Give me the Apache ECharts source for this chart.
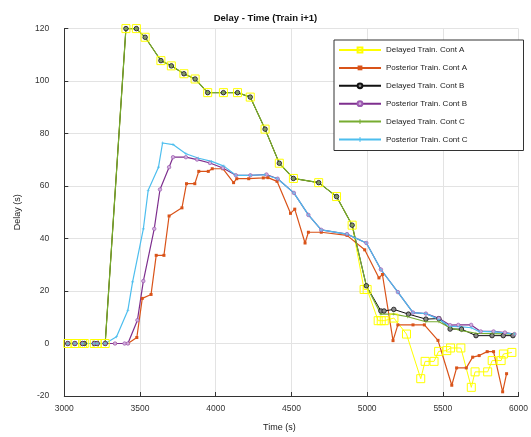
<!DOCTYPE html>
<html>
<head>
<meta charset="utf-8">
<script src="https://cdn.jsdelivr.net/npm/echarts@6/dist/echarts.min.js"></script>
<style>
  html, body { margin: 0; padding: 0; background: #fff; }
  #chart { width: 531px; height: 437px; }
</style>
</head>
<body>
<div id="chart"></div>
<script>
// series names (legend order)
var names = ['Delayed Train. Cont A', 'Posterior Train. Cont A', 'Delayed Train. Cont B',
             'Posterior Train. Cont B', 'Delayed Train. Cont C', 'Posterior Train. Cont C'];

// Delayed Train A
var delAT = [3023, 3070, 3121, 3132, 3198, 3217, 3270, 3407, 3476, 3534, 3638, 3707, 3790, 3864, 3947, 4051, 4144, 4228, 4326, 4420, 4513, 4680, 4798, 4901, 4980, 5000, 5073, 5093, 5113, 5177, 5260, 5354, 5383, 5442, 5472, 5526, 5551, 5619, 5688, 5713, 5796, 5826, 5885, 5900, 5956];
var delAD = [0, 0, 0, 0, 0, 0, 0, 120, 120, 116.7, 107.8, 105.8, 102.8, 100.8, 95.6, 95.6, 95.6, 93.9, 81.7, 68.7, 62.9, 61.3, 56, 45.1, 20.6, 20.6, 8.7, 8.7, 8.7, 9.7, 3.6, -13.4, -6.8, -6.8, -3, -2.7, -1.7, -1.7, -16.7, -10.8, -10.8, -6.5, -6.5, -4, -3.4];

// Posterior Train A
var postAT = [3023, 3070, 3121, 3198, 3217, 3270, 3335, 3420, 3479, 3515, 3573, 3607, 3658, 3692, 3777, 3807, 3862, 3888, 3951, 3977, 4047, 4118, 4139, 4218, 4314, 4345, 4405, 4494, 4522, 4590, 4612, 4697, 4867, 4984, 5078, 5101, 5171, 5203, 5303, 5378, 5468, 5559, 5591, 5655, 5697, 5740, 5793, 5835, 5895, 5921];
var postAD = [0, 0, 0, 0, 0, 0, 0, 0, 2.3, 17.2, 18.7, 33.6, 33.6, 48.6, 51.7, 60.9, 60.9, 65.6, 65.6, 66.6, 66.6, 61.3, 62.8, 62.8, 63.1, 63.2, 61.8, 49.6, 51.2, 38.3, 42.4, 42.4, 41.2, 35.7, 25, 26.3, 1.1, 7.1, 7.1, 7.1, 1.2, -15.9, -9.3, -9.3, -5.2, -4.6, -3.1, -3.1, -18.4, -11.5];

// Delayed Train B
var delBT = [3023, 3070, 3121, 3132, 3198, 3217, 3270, 3407, 3476, 3534, 3638, 3707, 3790, 3864, 3947, 4051, 4144, 4228, 4326, 4420, 4513, 4680, 4798, 4901, 4995, 5091, 5112, 5176, 5273, 5388, 5474, 5548, 5623, 5719, 5825, 5899, 5963];
var delBD = [0, 0, 0, 0, 0, 0, 0, 120, 120, 116.7, 107.8, 105.8, 102.8, 100.8, 95.6, 95.6, 95.6, 93.9, 81.7, 68.7, 62.9, 61.3, 56, 45.1, 22, 12.4, 12.4, 13, 11.2, 9.3, 9.5, 5.5, 5.5, 3, 3, 3, 3];

// Posterior Train B
var postBT = [3023, 3070, 3121, 3198, 3217, 3270, 3335, 3398, 3420, 3483, 3522, 3594, 3632, 3692, 3718, 3803, 3877, 3962, 4047, 4133, 4229, 4335, 4409, 4516, 4612, 4697, 4867, 4995, 5091, 5203, 5303, 5388, 5474, 5548, 5602, 5687, 5750, 5835, 5910, 5973];
var postBD = [0, 0, 0, 0, 0, 0, 0, 0, 0, 8.9, 23.8, 43.7, 58.7, 67.2, 71, 71, 70.1, 68.8, 66.9, 64.1, 64.1, 64.4, 62.8, 57.4, 49, 43.3, 41.7, 38.3, 28.2, 19.6, 11.8, 11.4, 9.6, 7, 7.1, 7.1, 4.6, 4.6, 4.2, 3.6];

// Delayed Train C
var delCT = [3023, 3070, 3121, 3132, 3198, 3217, 3270, 3407, 3476, 3534, 3638, 3707, 3790, 3864, 3947, 4051, 4144, 4228, 4326, 4420, 4513, 4680, 4798, 4901, 4995, 5091, 5176, 5268, 5388, 5474, 5548, 5623, 5719, 5825, 5970];
var delCD = [0, 0, 0, 0, 0, 0, 0, 120, 120, 116.7, 107.8, 105.8, 102.8, 100.8, 95.6, 95.6, 95.6, 93.9, 81.7, 68.7, 62.9, 61.3, 56, 45.1, 22, 11.2, 11.2, 10.2, 8.3, 8.3, 6, 4.9, 3.9, 3.8, 3.6];

// Posterior Train C
var postCT = [3023, 3070, 3121, 3198, 3217, 3270, 3345, 3420, 3451, 3522, 3554, 3622, 3649, 3718, 3803, 3888, 3973, 4054, 4133, 4229, 4324, 4409, 4516, 4612, 4697, 4867, 4995, 5091, 5203, 5303, 5388, 5474, 5548, 5610, 5687, 5740, 5846, 5973];
var postCD = [0, 0, 0, 0, 0, 0, 2.6, 12.7, 23.5, 43.7, 58.4, 67.2, 76.4, 75.8, 72.3, 70.6, 69.4, 67.6, 64.1, 64.1, 64.3, 62.8, 57.4, 49, 43.3, 41.7, 38.3, 28.2, 19.6, 11.8, 11.4, 9.2, 6.5, 6.4, 6, 4.6, 4.4, 3.6];

var xTicks = [3000, 6000, 500];
var yTicks = [-20, 120, 20];

function pairs(t, d) {
  return t.map(function (v, i) { return [v, d[i]]; });
}

var plus = 'path://M4,0H6V4H10V6H6V10H4V6H0V4H4Z';
var font = 'Liberation Sans, Arial';

window.onload = function () {
  var myChart = echarts.init(document.getElementById('chart'));
  var option = {
    animation: false,
    backgroundColor: '#fff',
    title: {
      text: 'Delay - Time (Train i+1)',
      left: 'center',
      top: 8,
      textStyle: { fontFamily: font, fontSize: 9.5, fontWeight: 'bold', color: '#111' }
    },
    grid: { left: 64.3, top: 28.6, width: 469.7, height: 370 },
    legend: {
      orient: 'vertical',
      left: 334,
      top: 40,
      itemWidth: 42,
      itemHeight: 6,
      itemGap: 9.9,
      padding: [6, 56, 7, 4],
      backgroundColor: '#fff',
      borderColor: '#333',
      borderWidth: 1,
      borderRadius: 0,
      textStyle: { fontFamily: font, fontSize: 8, color: '#222' },
      data: names
    },
    xAxis: {
      type: 'value',
      min: xTicks[0], max: xTicks[1], interval: xTicks[2],
      name: 'Time (s)',
      nameLocation: 'middle',
      nameGap: 27,
      nameTextStyle: { fontFamily: font, fontSize: 9, color: '#222', padding: [0, 24, 0, 0] },
      axisLine: { onZero: false, lineStyle: { color: '#333', width: 1 } },
      axisTick: { inside: true, length: 4, lineStyle: { color: '#333' } },
      axisLabel: { fontFamily: font, fontSize: 8.5, color: '#333', margin: 8, formatter: function (v) { return String(v); } },
      splitLine: { show: true, lineStyle: { color: '#e3e3e3', width: 1 } }
    },
    yAxis: {
      type: 'value',
      min: yTicks[0], max: yTicks[1], interval: yTicks[2],
      name: 'Delay (s)',
      nameLocation: 'middle',
      nameGap: 42,
      nameTextStyle: { fontFamily: font, fontSize: 9, color: '#222' },
      axisLine: { show: true, onZero: false, lineStyle: { color: '#333', width: 1 } },
      axisTick: { show: true, inside: true, length: 4, lineStyle: { color: '#333' } },
      axisLabel: { fontFamily: font, fontSize: 8.5, color: '#333', margin: 15 },
      splitLine: { show: true, lineStyle: { color: '#e3e3e3', width: 1 } }
    },
    series: [
      {
        name: names[0], type: 'line', data: pairs(delAT, delAD),
        symbol: 'rect', symbolSize: 8,
        lineStyle: { color: '#ffff00', width: 1 },
        itemStyle: { color: 'rgba(255,255,255,0)', borderColor: '#ffff00', borderWidth: 1 }
      },
      {
        name: names[1], type: 'line', data: pairs(postAT, postAD),
        symbol: 'rect', symbolSize: 3,
        lineStyle: { color: '#d95319', width: 1.2 },
        itemStyle: { color: '#d95319' }
      },
      {
        name: names[2], type: 'line', data: pairs(delBT, delBD),
        symbol: 'circle', symbolSize: 4.5,
        lineStyle: { color: '#111', width: 1 },
        itemStyle: { color: '#8a8a8a', borderColor: '#111', borderWidth: 0.8 }
      },
      {
        name: names[3], type: 'line', data: pairs(postBT, postBD),
        symbol: 'circle', symbolSize: 3.5,
        lineStyle: { color: '#7e2f8e', width: 1.2 },
        itemStyle: { color: '#d2b0dc', borderColor: '#9b59b0', borderWidth: 0.7 }
      },
      {
        name: names[4], type: 'line', data: pairs(delCT, delCD),
        symbol: plus, symbolSize: 3,
        lineStyle: { color: '#77ac30', width: 1.2 },
        itemStyle: { color: '#77ac30' }
      },
      {
        name: names[5], type: 'line', data: pairs(postCT, postCD),
        symbol: plus, symbolSize: 3,
        lineStyle: { color: '#4dbeee', width: 1.2 },
        itemStyle: { color: '#4dbeee' }
      }
    ]
  };
  myChart.setOption(option);
};
</script>
</body>
</html>
